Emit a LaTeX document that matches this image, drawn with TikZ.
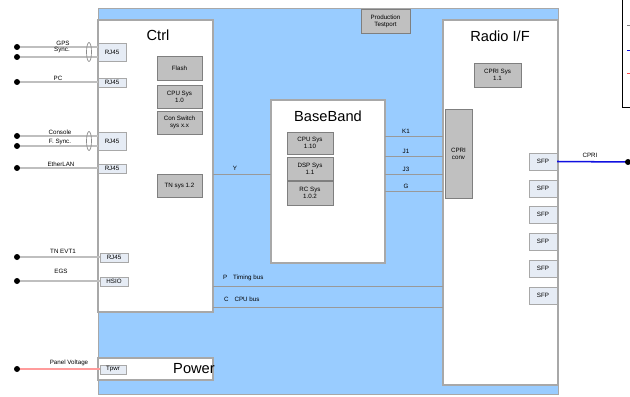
\documentclass[tikz,border=0pt]{standalone}
\usepackage{fontspec}
\setmainfont{Liberation Sans}
\usepackage{tikz}
\definecolor{hwblue}{HTML}{99CCFF}
\definecolor{hwedge}{HTML}{A8A8A8}
\definecolor{hwgray}{HTML}{C0C0C0}
\definecolor{hwdark}{HTML}{7F7F7F}
\definecolor{hwport}{HTML}{E6ECF5}
\definecolor{hwpink}{HTML}{FF9C9C}
\definecolor{hwcpri}{HTML}{1010E0}

\begin{document}
\begin{tikzpicture}[x=0.3mm,y=-0.3mm,
  wh/.style 2 args={minimum width=#1*0.3mm,minimum height=#2*0.3mm,inner sep=0pt,outer sep=0pt},
  unit/.style={draw=hwedge,line width=1.1pt,fill=white,anchor=north west},
  part/.style={draw=hwdark,line width=0.8pt,fill=hwgray,anchor=north west,align=center,font=\fontsize{5.3}{6}\selectfont},
  port/.style={draw=hwedge,line width=0.8pt,fill=hwport,anchor=north west,font=\fontsize{5.3}{6}\selectfont},
  lbl/.style={inner sep=0pt,font=\fontsize{5.3}{6}\selectfont},
  title/.style={inner sep=0pt,font=\fontsize{12.5}{14}\selectfont},
  wire/.style={draw=black!25,line width=1.2pt},
  bus/.style={draw=black!40,line width=0.8pt}]
  \clip (0,0) rectangle (630,397);

  % rack and units
  \node[wh={460}{386},fill=hwblue,draw=hwedge,line width=0.6pt,anchor=north west] (rack) at (98,8) {};
  \node[unit,wh={115}{292}] (ctrl) at (98,20) {};
  \node[unit,wh={115}{22}] (power) at (98,358) {};
  \node[unit,wh={114}{163}] (bb) at (271,100) {};
  \node[unit,wh={115}{365}] (radio) at (443,20) {};
  \node[title] (ctrltitle) at (158,35) {Ctrl};
  \node[title] (powertitle) at (194,369) {Power};
  \node[title] (bbtitle) at (328,116) {BaseBand};
  \node[title] (radiotitle) at (500,36) {Radio I/F};
  \node[part,wh={49}{24}] (testport) at (361,9) {Production\\Testport};

  % sub systems
  \node[part,wh={45}{24}] (flash) at (157,56) {Flash};
  \node[part,wh={45}{23}] (cpusys) at (157,85) {CPU Sys\\1.0};
  \node[part,wh={45}{23}] (conswitch) at (157,111) {Con Switch\\sys x.x};
  \node[part,wh={45}{23}] (tnsys) at (157,174) {TN sys 1.2};
  \node[part,wh={46}{22}] (bbcpu) at (287,132) {CPU Sys\\1.10};
  \node[part,wh={46}{23}] (bbdsp) at (287,157) {DSP Sys\\1.1};
  \node[part,wh={46}{24}] (bbrc) at (287,181) {RC Sys\\1.0.2};
  \node[part,wh={47}{24}] (cprisys) at (474,63) {CPRI Sys\\1.1};
  \node[part,wh={27}{89}] (cpriconv) at (445,109) {CPRI\\conv};
  \foreach \i/\y in {1/153,2/180,3/206,4/233,5/260,6/287}
    \node[port,wh={28}{17}] (sfp\i) at (529,\y) {SFP};

  % external ports
  \foreach \n/\x/\y/\h/\t in {rjgps/98/43/18/RJ45, rjpc/98/78/9/RJ45, rjcon/98/132/18/RJ45,
      rjlan/98/164/9/RJ45, rjtn/100/253/9/RJ45, hsio/100/277/9/HSIO}
    \node[port,wh={28}{\h}] (\n) at (\x,\y) {\t};
  \node[port,wh={26}{9}] (tpwr) at (100,365) {Tpwr};

  % external wires
  \foreach \n/\y/\p in {gpsa/47/rjgps, gpsb/57/rjgps, pc/82/rjpc, cona/136/rjcon,
      conb/146/rjcon, lan/168/rjlan, tnevt/257/rjtn, egs/281/hsio}
  {
    \coordinate (\n) at (17,\y);
    \draw[wire] (\n) -- (\n -| \p.west);
    \fill (\n) circle (3);
  }
  \coordinate (pwr) at (17,369);
  \draw[hwpink,line width=1.4pt] (pwr) -- (pwr -| tpwr.west);
  \fill (pwr) circle (3);
  \draw[black!45,line width=0.6pt] (89,52) ellipse (2.5 and 9.5);
  \draw[black!45,line width=0.6pt] (89,141) ellipse (2.5 and 9.5);
  \foreach \n/\x/\y/\t in {lgps/63/43/GPS, lsync/62/50/Sync., lpc/58/78/PC, lcon/60/132/Console,
      lfsync/60/142/F. Sync., llan/61/164/EtherLAN, ltn/63/251/TN EVT1, legs/61/271/EGS,
      lpwr/69/363/Panel Voltage}
    \node[lbl] (\n) at (\x,\y) {\t};

  % internal buses
  \coordinate (ybus) at (240,174);
  \draw[bus] (ctrl.east |- ybus) -- (bb.west |- ybus);
  \node[lbl] (ylbl) at (235,168) {Y};
  \foreach \n/\y/\t in {k1/136/K1, j1/156/J1, j3/174/J3, g/191/G}
  {
    \coordinate (\n) at (410,\y);
    \draw[bus] (bb.east |- \n) -- (radio.west |- \n);
    \node[lbl] (l\n) at (406,\y-5) {\t};
  }
  \coordinate (tbus) at (300,286);
  \coordinate (cbus) at (300,307);
  \draw[bus] (ctrl.east |- tbus) -- (radio.west |- tbus);
  \draw[bus] (ctrl.east |- cbus) -- (radio.west |- cbus);
  \node[lbl,anchor=west] (tlbl) at (223,278) {P\hspace{5pt}Timing bus};
  \node[lbl,anchor=west] (clbl) at (224,299) {C\hspace{5pt}CPU bus};

  % CPRI link
  \coordinate (cpriend) at (628,162);
  \draw[hwcpri,line width=1.3pt] (sfp1.east) -- (cpriend);
  \fill (cpriend) circle (3);
  \node[lbl] (cprilbl) at (590,155) {CPRI};

  % legend (cut off)
  \draw[black,line width=0.8pt] (640,-5) -| (622,107) -- (640,107);
  \draw[hwdark,line width=0.8pt] (627,25) -- (632,25);
  \draw[hwcpri,line width=0.8pt] (627,50) -- (632,50);
  \draw[red!70,line width=0.8pt] (627,73) -- (632,73);
\end{tikzpicture}
\end{document}
